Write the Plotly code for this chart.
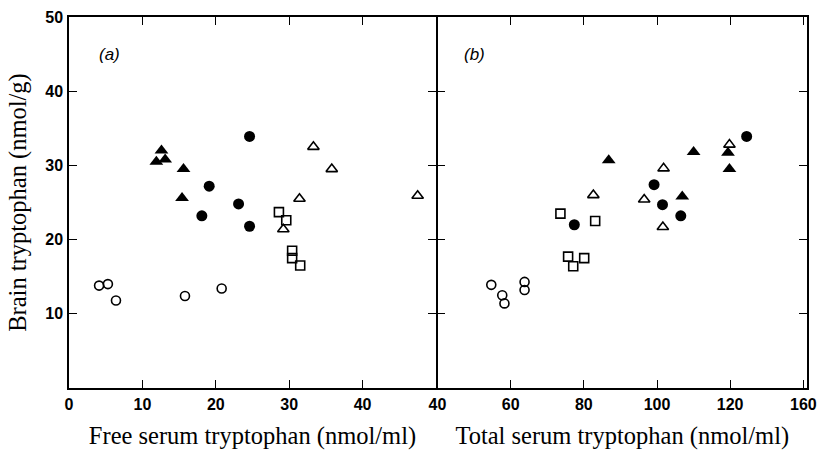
import plotly.graph_objects as go

# ---- Panel (a): free serum tryptophan (nmol/ml) vs brain tryptophan (nmol/g)
a_filled_tri_x = [12.6, 11.9, 13.1, 15.6, 15.4]
a_filled_tri_y = [32.0, 30.5, 30.8, 29.5, 25.6]
a_filled_circ_x = [24.6, 19.1, 23.1, 18.1, 24.6]
a_filled_circ_y = [33.9, 27.2, 24.8, 23.2, 21.8]
a_open_circ_x = [4.1, 5.3, 6.4, 15.8, 20.8]
a_open_circ_y = [13.8, 14.0, 11.8, 12.4, 13.4]
a_open_tri_x = [33.3, 35.8, 31.4, 47.5, 29.2]
a_open_tri_y = [32.5, 29.5, 25.5, 25.9, 21.4]
a_open_sq_x = [28.6, 29.6, 30.4, 30.4, 31.5]
a_open_sq_y = [23.7, 22.6, 18.5, 17.5, 16.5]

# ---- Panel (b): total serum tryptophan (nmol/ml) vs brain tryptophan (nmol/g)
b_filled_tri_x = [86.8, 110.0, 119.4, 119.8, 106.9]
b_filled_tri_y = [30.7, 31.8, 31.7, 29.5, 25.8]
b_filled_circ_x = [77.4, 124.5, 99.2, 101.5, 106.5]
b_filled_circ_y = [22.0, 33.9, 27.4, 24.7, 23.2]
b_open_circ_x = [54.7, 57.7, 58.3, 63.8, 63.8]
b_open_circ_y = [13.9, 12.5, 11.4, 14.3, 13.2]
b_open_tri_x = [82.6, 119.8, 101.8, 96.5, 101.6]
b_open_tri_y = [26.0, 32.8, 29.6, 25.4, 21.7]
b_open_sq_x = [73.6, 83.1, 75.7, 77.1, 80.1]
b_open_sq_y = [23.5, 22.5, 17.7, 16.4, 17.5]

a_xticks = [0, 10, 20, 30, 40]
a_xticklabels = ["0", "10", "20", "30", "40"]
b_xticks = [40, 60, 80, 100, 120, 140]
b_xticklabels = ["40", "60", "80", "100", "120", "160"]
y_ticks = [10, 20, 30, 40, 50]
y_ticklabels = ["10", "20", "30", "40", "50"]

styles = {
    "filled_tri": dict(symbol="triangle-up", size=12, color="black"),
    "filled_circ": dict(symbol="circle", size=11, color="black"),
    "open_circ": dict(symbol="circle-open", size=9, color="black", line=dict(width=1.6)),
    "open_tri": dict(symbol="triangle-up-open", size=10, color="black", line=dict(width=1.6)),
    "open_sq": dict(symbol="square-open", size=9, color="black", line=dict(width=1.6)),
}

fig = go.Figure()
panels = [
    ("x", "y", [("filled_tri", a_filled_tri_x, a_filled_tri_y),
                ("filled_circ", a_filled_circ_x, a_filled_circ_y),
                ("open_circ", a_open_circ_x, a_open_circ_y),
                ("open_tri", a_open_tri_x, a_open_tri_y),
                ("open_sq", a_open_sq_x, a_open_sq_y)]),
    ("x2", "y2", [("filled_tri", b_filled_tri_x, b_filled_tri_y),
                  ("filled_circ", b_filled_circ_x, b_filled_circ_y),
                  ("open_circ", b_open_circ_x, b_open_circ_y),
                  ("open_tri", b_open_tri_x, b_open_tri_y),
                  ("open_sq", b_open_sq_x, b_open_sq_y)]),
]
for xa, ya, groups in panels:
    for key, xs, ys in groups:
        fig.add_trace(go.Scatter(x=xs, y=ys, mode="markers", name=key,
                                 marker=styles[key], xaxis=xa, yaxis=ya,
                                 showlegend=False, cliponaxis=False))

tick_font = dict(family="Liberation Sans", size=16, color="black", weight="bold")
title_font = dict(family="Liberation Serif", size=24.5, color="black")
axis_common = dict(showline=True, linecolor="black", linewidth=1.5, mirror="ticks",
                   ticks="inside", ticklen=8, tickwidth=1.3, tickcolor="black",
                   showgrid=False, zeroline=False, tickfont=tick_font, automargin=False)

plot_w = 821 - 69 - 14
split_a = (436 - 69) / plot_w
split_b = (437.5 - 69) / plot_w
fig.update_layout(
    width=821, height=450,
    margin=dict(l=69, r=14, t=17, b=62),
    paper_bgcolor="white", plot_bgcolor="white",
    xaxis=dict(domain=[0, split_a], range=[0, 50], tickvals=a_xticks, ticktext=a_xticklabels,
               title=dict(text="Free serum tryptophan (nmol/ml)", font=title_font, standoff=23),
               ticklabelstandoff=1, **axis_common),
    xaxis2=dict(domain=[split_b, 1], range=[40, 141], tickvals=b_xticks, ticktext=b_xticklabels,
                anchor="y2",
                title=dict(text="Total serum tryptophan (nmol/ml)", font=title_font, standoff=23),
                ticklabelstandoff=1, **axis_common),
    yaxis=dict(range=[0, 50], tickvals=y_ticks, ticktext=y_ticklabels,
               title=dict(text="Brain tryptophan (nmol/g)", font=title_font, standoff=12),
               ticklabelstandoff=1, **axis_common),
    yaxis2=dict(range=[0, 50], tickvals=y_ticks, anchor="x2", showticklabels=False,
                **axis_common),
    annotations=[
        dict(text="(a)", xref="x", yref="y", x=5.5, y=45, showarrow=False,
             font=dict(family="Liberation Sans", size=17, color="black", style="italic")),
        dict(text="(b)", xref="x2", yref="y2", x=50, y=45, showarrow=False,
             font=dict(family="Liberation Sans", size=17, color="black", style="italic")),
    ],
)

fig.write_html("out.html", config={"displayModeBar": False},
               post_script="document.body.style.margin='0';document.body.style.overflow='hidden';")
